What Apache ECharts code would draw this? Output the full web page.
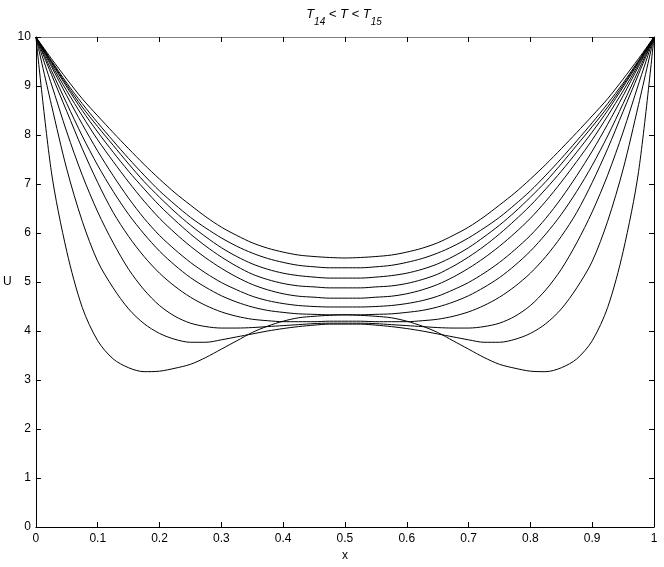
<!DOCTYPE html>
<html>
<head>
<meta charset="utf-8">
<script src="https://cdn.jsdelivr.net/npm/echarts@6/dist/echarts.min.js"></script>
<style>html,body{margin:0;padding:0;background:#fff;}#c{width:664px;height:567px;}</style>
</head>
<body>
<div id="c"></div>
<script>
// x positions of the sampled points
const xs = [0, 0.025, 0.05, 0.075, 0.1, 0.125, 0.15, 0.175, 0.2, 0.225, 0.25, 0.275, 0.3, 0.325, 0.35, 0.375, 0.4, 0.425, 0.45, 0.475, 0.5,
            0.525, 0.55, 0.575, 0.6, 0.625, 0.65, 0.675, 0.7, 0.725, 0.75, 0.775, 0.8, 0.825, 0.85, 0.875, 0.9, 0.925, 0.95, 0.975, 1];
// U profiles, one per time level (top curve first)
const uK = [10, 9.56, 9.14, 8.74, 8.39, 8.05, 7.72, 7.40, 7.10, 6.82, 6.57, 6.33, 6.12, 5.95, 5.80, 5.69, 5.61, 5.55, 5.52, 5.50, 5.49,
            5.50, 5.52, 5.55, 5.61, 5.69, 5.80, 5.95, 6.12, 6.33, 6.57, 6.82, 7.10, 7.40, 7.72, 8.05, 8.39, 8.74, 9.14, 9.56, 10];
const uJ = [10, 9.52, 9.06, 8.64, 8.25, 7.88, 7.52, 7.18, 6.86, 6.58, 6.32, 6.10, 5.90, 5.73, 5.59, 5.48, 5.40, 5.34, 5.31, 5.29, 5.29,
            5.29, 5.31, 5.34, 5.40, 5.48, 5.59, 5.73, 5.90, 6.10, 6.32, 6.58, 6.86, 7.18, 7.52, 7.88, 8.25, 8.64, 9.06, 9.52, 10];
const uI = [10, 9.50, 9.02, 8.57, 8.17, 7.79, 7.41, 7.05, 6.73, 6.43, 6.16, 5.92, 5.70, 5.52, 5.37, 5.26, 5.18, 5.13, 5.10, 5.08, 5.08,
            5.08, 5.10, 5.13, 5.18, 5.26, 5.37, 5.52, 5.70, 5.92, 6.16, 6.43, 6.73, 7.05, 7.41, 7.79, 8.17, 8.57, 9.02, 9.50, 10];
const uH = [10, 9.48, 8.98, 8.50, 8.06, 7.65, 7.26, 6.90, 6.56, 6.26, 5.98, 5.73, 5.51, 5.32, 5.16, 5.05, 4.97, 4.92, 4.90, 4.88, 4.88,
            4.88, 4.90, 4.92, 4.97, 5.05, 5.16, 5.32, 5.51, 5.73, 5.98, 6.26, 6.56, 6.90, 7.26, 7.65, 8.06, 8.50, 8.98, 9.48, 10];
const uG = [10, 9.44, 8.90, 8.39, 7.90, 7.46, 7.04, 6.65, 6.30, 6.00, 5.73, 5.49, 5.28, 5.10, 4.95, 4.84, 4.76, 4.71, 4.69, 4.67, 4.67,
            4.67, 4.69, 4.71, 4.76, 4.84, 4.95, 5.10, 5.28, 5.49, 5.73, 6.00, 6.30, 6.65, 7.04, 7.46, 7.90, 8.39, 8.90, 9.44, 10];
const uF = [10, 9.40, 8.80, 8.22, 7.67, 7.17, 6.71, 6.30, 5.95, 5.66, 5.40, 5.18, 4.99, 4.84, 4.71, 4.62, 4.56, 4.52, 4.50, 4.49, 4.49,
            4.49, 4.50, 4.52, 4.56, 4.62, 4.71, 4.84, 4.99, 5.18, 5.40, 5.66, 5.95, 6.30, 6.71, 7.17, 7.67, 8.22, 8.80, 9.40, 10];
const uE = [10, 9.32, 8.64, 7.98, 7.38, 6.85, 6.38, 5.98, 5.63, 5.34, 5.09, 4.89, 4.72, 4.59, 4.49, 4.42, 4.38, 4.35, 4.34, 4.33, 4.33,
            4.33, 4.34, 4.35, 4.38, 4.42, 4.49, 4.59, 4.72, 4.89, 5.09, 5.34, 5.63, 5.98, 6.38, 6.85, 7.38, 7.98, 8.64, 9.32, 10];
const uD = [10, 9.24, 8.48, 7.72, 7.03, 6.42, 5.93, 5.52, 5.18, 4.91, 4.69, 4.52, 4.39, 4.30, 4.24, 4.21, 4.19, 4.19, 4.19, 4.20, 4.20,
            4.20, 4.19, 4.19, 4.19, 4.21, 4.24, 4.30, 4.39, 4.52, 4.69, 4.91, 5.18, 5.52, 5.93, 6.42, 7.03, 7.72, 8.48, 9.24, 10];
const uC = [10, 9.04, 8.06, 7.18, 6.43, 5.80, 5.26, 4.84, 4.52, 4.30, 4.16, 4.09, 4.06, 4.06, 4.07, 4.09, 4.11, 4.13, 4.15, 4.16, 4.16,
            4.16, 4.15, 4.13, 4.11, 4.09, 4.07, 4.06, 4.06, 4.09, 4.16, 4.30, 4.52, 4.84, 5.26, 5.80, 6.43, 7.18, 8.06, 9.04, 10];
const uB = [10, 8.62, 7.30, 6.24, 5.42, 4.88, 4.45, 4.15, 3.95, 3.83, 3.77, 3.77, 3.82, 3.88, 3.94, 4.00, 4.05, 4.09, 4.12, 4.14, 4.14,
            4.14, 4.12, 4.09, 4.05, 4.00, 3.94, 3.88, 3.82, 3.77, 3.77, 3.83, 3.95, 4.15, 4.45, 4.88, 5.42, 6.24, 7.30, 8.62, 10];
const uA = [10, 7.25, 5.62, 4.48, 3.80, 3.43, 3.25, 3.17, 3.18, 3.24, 3.32, 3.46, 3.63, 3.80, 3.97, 4.10, 4.20, 4.27, 4.30, 4.32, 4.33,
            4.32, 4.30, 4.27, 4.20, 4.10, 3.97, 3.80, 3.63, 3.46, 3.32, 3.24, 3.18, 3.17, 3.25, 3.43, 3.80, 4.48, 5.62, 7.25, 10];
const curves = [uK, uJ, uI, uH, uG, uF, uE, uD, uC, uB, uA];

const FONT = 'Liberation Sans, Arial, Helvetica, sans-serif';
const chart = echarts.init(document.getElementById('c'), null, {renderer: 'canvas'});

const axisCommon = {
  type: 'value', min: 0, max: 1, interval: 0.1,
  splitLine: {show: false},
  axisLine: {show: true, onZero: false, lineStyle: {color: '#000', width: 1}},
  axisTick: {show: true, inside: true, length: 5, lineStyle: {color: '#000', width: 1}}
};

chart.setOption({
  animation: false,
  backgroundColor: '#fff',
  grid: {left: 35, right: 10, top: 37, bottom: 40, containLabel: false},
  graphic: [{
    type: 'text', x: 344, y: 8,
    style: {
      text: '{i|T}{s|14}{i| < T < T}{s|15}',
      align: 'center',
      rich: {
        i: {fontFamily: FONT, fontSize: 13, fontStyle: 'italic', fill: '#000', padding: [0, 0, 6, 0]},
        s: {fontFamily: FONT, fontSize: 10, fontStyle: 'italic', fill: '#000', padding: [9, 0, 0, 0]}
      }
    }
  }],
  xAxis: [
    Object.assign({}, axisCommon, {
      position: 'bottom',
      name: 'x', nameLocation: 'middle', nameGap: 22,
      nameTextStyle: {fontFamily: FONT, fontSize: 12, color: '#000'},
      axisLabel: {show: true, margin: 6, fontFamily: FONT, fontSize: 12, color: '#000',
        formatter: v => String(+v.toFixed(1))}
    }),
    Object.assign({}, axisCommon, {
      position: 'top',
      axisLine: {show: true, onZero: false, lineStyle: {color: '#808080', width: 1}},
      axisLabel: {show: false}
    })
  ],
  yAxis: [
    Object.assign({}, axisCommon, {
      min: 0, max: 10, interval: 1, position: 'left',
      name: 'U', nameLocation: 'middle', nameGap: 22, nameRotate: 0,
      nameTextStyle: {fontFamily: FONT, fontSize: 12, color: '#000'},
      axisLabel: {show: true, margin: 5, fontFamily: FONT, fontSize: 12, color: '#000'}
    }),
    Object.assign({}, axisCommon, {
      min: 0, max: 10, interval: 1, position: 'right',
      axisLabel: {show: false}
    })
  ],
  series: curves.map(u => ({
    type: 'line',
    xAxisIndex: 0, yAxisIndex: 0,
    data: xs.map((x, i) => [x, u[i]]),
    showSymbol: false, symbol: 'none',
    smooth: 0.3,
    lineStyle: {color: '#000', width: 1},
    silent: true
  }))
});
</script>
</body>
</html>
